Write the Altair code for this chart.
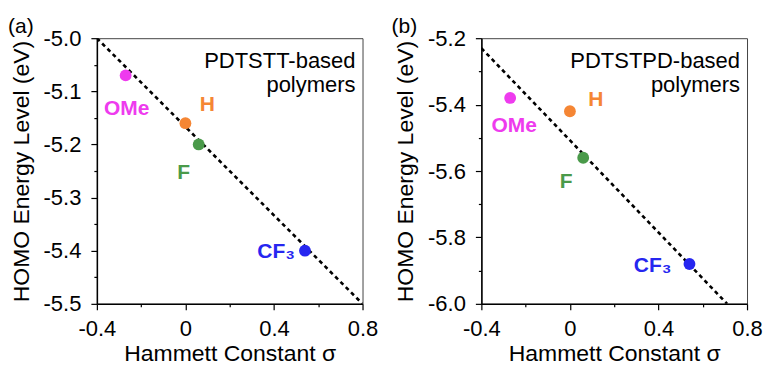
import altair as alt
import pandas as pd

FONT = "Liberation Sans"

# ---- data ----
sigma = [-0.27, 0.0, 0.06, 0.54]
substituents = ["OMe", "H", "F", "CF₃"]
colors = ["#ee3bee", "#f58634", "#4a9a4a", "#2626f0"]
homo_a = [-5.07, -5.16, -5.20, -5.40]
homo_b = [-5.38, -5.42, -5.56, -5.88]

fit_a_sigma = [-0.4, 0.8]
fit_a_homo = [-5.0, -5.5]
fit_b_sigma = [-0.4, 0.71]
fit_b_homo = [-5.23, -6.0]

x_ticks = [-0.4, -0.2, 0.0, 0.2, 0.4, 0.6, 0.8]
ya_ticks = [-5.5, -5.45, -5.4, -5.35, -5.3, -5.25, -5.2, -5.15, -5.1, -5.05, -5.0]
yb_ticks = [-6.0, -5.9, -5.8, -5.7, -5.6, -5.5, -5.4, -5.3, -5.2]

tags = ["(a)", "(b)"]
notes = ["PDTSTT-based\npolymers", "PDTSTPD-based\npolymers"]

# ---- style ----
W = H = 266
offsets_a = {"OMe": (1, 34, "center"), "H": (22, -18, "center"),
             "F": (-15, 29, "center"), "CF₃": (-10, 1, "right")}
offsets_b = {"OMe": (4, 28, "center"), "H": (26, -11, "center"),
             "F": (-17, 24, "center"), "CF₃": (-18, 2, "right")}


def major_test(step):
    return f"abs(datum.value/{step} - round(datum.value/{step})) < 1e-6"


def make_axis(title, values, step, fmt, lab_pad, title_pad):
    t = major_test(step)
    return alt.Axis(
        values=values, title=title, grid=False,
        labelExpr=f"{t} ? replace(format(datum.value, '{fmt}'), '\u2212', '-') : ''",
        tickSize={"condition": {"test": t, "value": 6}, "value": 3},
        tickColor="black", tickWidth=1.2,
        domainColor="black", domainWidth=1.5,
        labelFont=FONT, labelFontSize=22, labelColor="black",
        labelPadding=lab_pad, labelFlush=False, labelOverlap=False,
        titleFont=FONT, titleFontSize=23, titleFontWeight="normal",
        titleColor="black", titlePadding=title_pad,
    )


def make_panel(homo, fx, fy, yticks, ydom, ystep, tag, note, offs, tag_x):
    df = pd.DataFrame({"sigma": sigma, "homo": homo,
                       "sub": substituents, "color": colors})
    xaxis = make_axis("Hammett Constant σ", x_ticks, 0.4, "~g", 9, 3)
    yaxis = make_axis("HOMO Energy Level (eV)", yticks, ystep, ".1f", 10, 10)
    xenc = alt.X("sigma:Q", scale=alt.Scale(domain=[-0.4, 0.8], nice=False, zero=False), axis=xaxis)
    yenc = alt.Y("homo:Q", scale=alt.Scale(domain=ydom, nice=False, zero=False), axis=yaxis)

    fit = alt.Chart(pd.DataFrame({"sigma": fx, "homo": fy})).mark_line(
        color="black", strokeWidth=2.6, strokeDash=[4, 3.5], clip=True
    ).encode(x=xenc, y=yenc)

    pts = alt.Chart(df).mark_circle(size=140, opacity=1).encode(
        x=xenc, y=yenc, color=alt.Color("color:N", scale=None, legend=None)
    )

    labs = []
    for s, c in zip(substituents, colors):
        dx, dy, al = offs[s]
        labs.append(
            alt.Chart(df).transform_filter(alt.datum.sub == s).mark_text(
                dx=dx, dy=dy, align=al, baseline="middle", font=FONT,
                fontSize=21, fontWeight="bold", color=c
            ).encode(x=xenc, y=yenc, text="sub:N")
        )

    note_ch = alt.Chart(pd.DataFrame({"note": [note]})).mark_text(
        align="right", baseline="alphabetic", lineBreak="\n", font=FONT,
        fontSize=22, lineHeight=24, color="black"
    ).encode(x=alt.value(W - 7), y=alt.value(30), text="note:N")

    tag_ch = alt.Chart(pd.DataFrame({"tag": [tag]})).mark_text(
        align="left", baseline="alphabetic", font=FONT, fontSize=21, color="black"
    ).encode(x=alt.value(tag_x), y=alt.value(-5), text="tag:N")

    return alt.layer(fit, pts, *labs, note_ch, tag_ch).properties(width=W, height=H)


panel_a = make_panel(homo_a, fit_a_sigma, fit_a_homo, ya_ticks, [-5.5, -5.0], 0.1,
                     tags[0], notes[0], offsets_a, -89)
panel_b = make_panel(homo_b, fit_b_sigma, fit_b_homo, yb_ticks, [-6.0, -5.2], 0.2,
                     tags[1], notes[1], offsets_b, -90)

chart = alt.hconcat(panel_a, panel_b, spacing=12).properties(
    padding={"left": 7, "top": 15, "right": 0, "bottom": 0}
).configure_view(stroke="#444", strokeWidth=1)

chart.save("out.html", embed_options={"renderer": "svg", "actions": False})
